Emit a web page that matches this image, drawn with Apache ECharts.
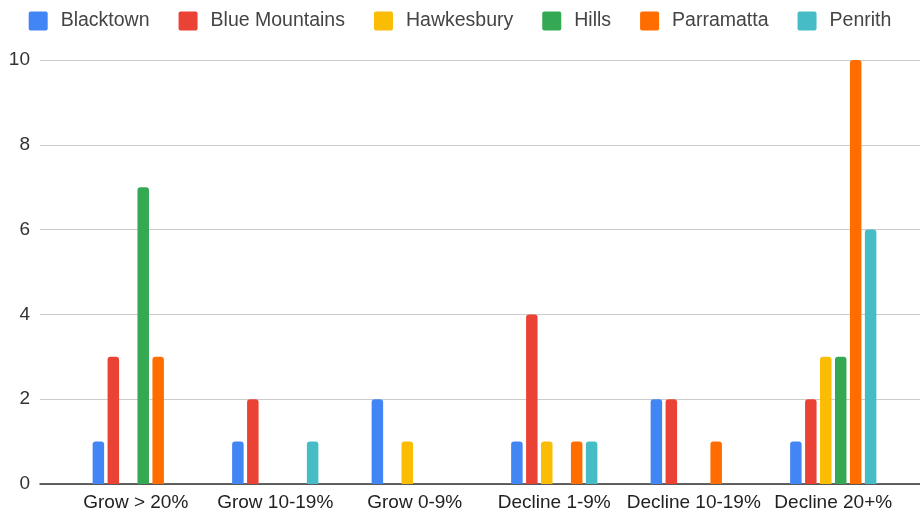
<!DOCTYPE html>
<html><head><meta charset="utf-8">
<script src="https://cdn.jsdelivr.net/npm/echarts@6/dist/echarts.min.js"></script>
<style>html,body{margin:0;padding:0;background:#fff}#c{width:920px;height:513px}</style>
</head><body><div id="c"></div>
<script>
const categories = ['Grow > 20%','Grow 10-19%','Grow 0-9%','Decline 1-9%','Decline 10-19%','Decline 20+%'];
const seriesNames = ['Blacktown','Blue Mountains','Hawkesbury','Hills','Parramatta','Penrith'];
const blacktown = [1,1,2,1,2,1];
const blueMountains = [3,2,0,4,2,2];
const hawkesbury = [0,0,1,1,0,3];
const hills = [7,0,0,0,0,3];
const parramatta = [3,0,0,1,1,10];
const penrith = [0,1,0,1,0,6];
const yTicks = [0,2,4,6,8,10];
const colors = ['#4285F4','#EA4335','#FBBC04','#34A853','#FF6D01','#46BDC6'];
const values = [blacktown,blueMountains,hawkesbury,hills,parramatta,penrith];
const font = '"Liberation Sans", Arial, sans-serif';

const chart = echarts.init(document.getElementById('c'), null, {renderer:'canvas'});
chart.setOption({
  animation:false,
  color: colors,
  textStyle:{fontFamily:font},
  legend:{
    top:6, left:'center', itemWidth:19, itemHeight:19, itemGap:29,
    icon:'path://M2,0 H17 A2,2 0 0 1 19,2 V17 A2,2 0 0 1 17,19 H2 A2,2 0 0 1 0,17 V2 A2,2 0 0 1 2,0 Z',
    textStyle:{fontSize:19.5, color:'#444', fontFamily:font, padding:[0,0,0,8]},
    data: seriesNames
  },
  grid:[
    {left:66, right:17, top:60, bottom:29},
    {left:40, right:0, top:60, bottom:29}
  ],
  xAxis:[
    {type:'category', gridIndex:0, data:categories,
     axisLine:{show:false}, axisTick:{show:false},
     axisLabel:{fontSize:19, color:'#222', fontFamily:font, margin:9, interval:0}},
    {type:'value', gridIndex:1, show:true, min:0, max:1,
     axisLine:{show:true, lineStyle:{color:'#333', width:1.5}},
     axisTick:{show:false}, axisLabel:{show:false}, splitLine:{show:false}}
  ],
  yAxis:[
    {type:'value', gridIndex:0, min:yTicks[0], max:yTicks[yTicks.length-1], interval:2, show:false},
    {type:'value', gridIndex:1, min:yTicks[0], max:yTicks[yTicks.length-1], interval:2,
     axisLine:{show:false}, axisTick:{show:false},
     axisLabel:{fontSize:19, color:'#333', fontFamily:font, margin:10},
     splitLine:{lineStyle:{color:'#ccc', width:1}}}
  ],
  series: seriesNames.map((n,i)=>({
    name:n, type:'bar', xAxisIndex:0, yAxisIndex:0,
    data: values[i], barWidth:11.5, barGap:'30%',
    itemStyle:{color:colors[i], borderRadius:[3,3,0,0]},
    z:3
  }))
});
</script></body></html>
